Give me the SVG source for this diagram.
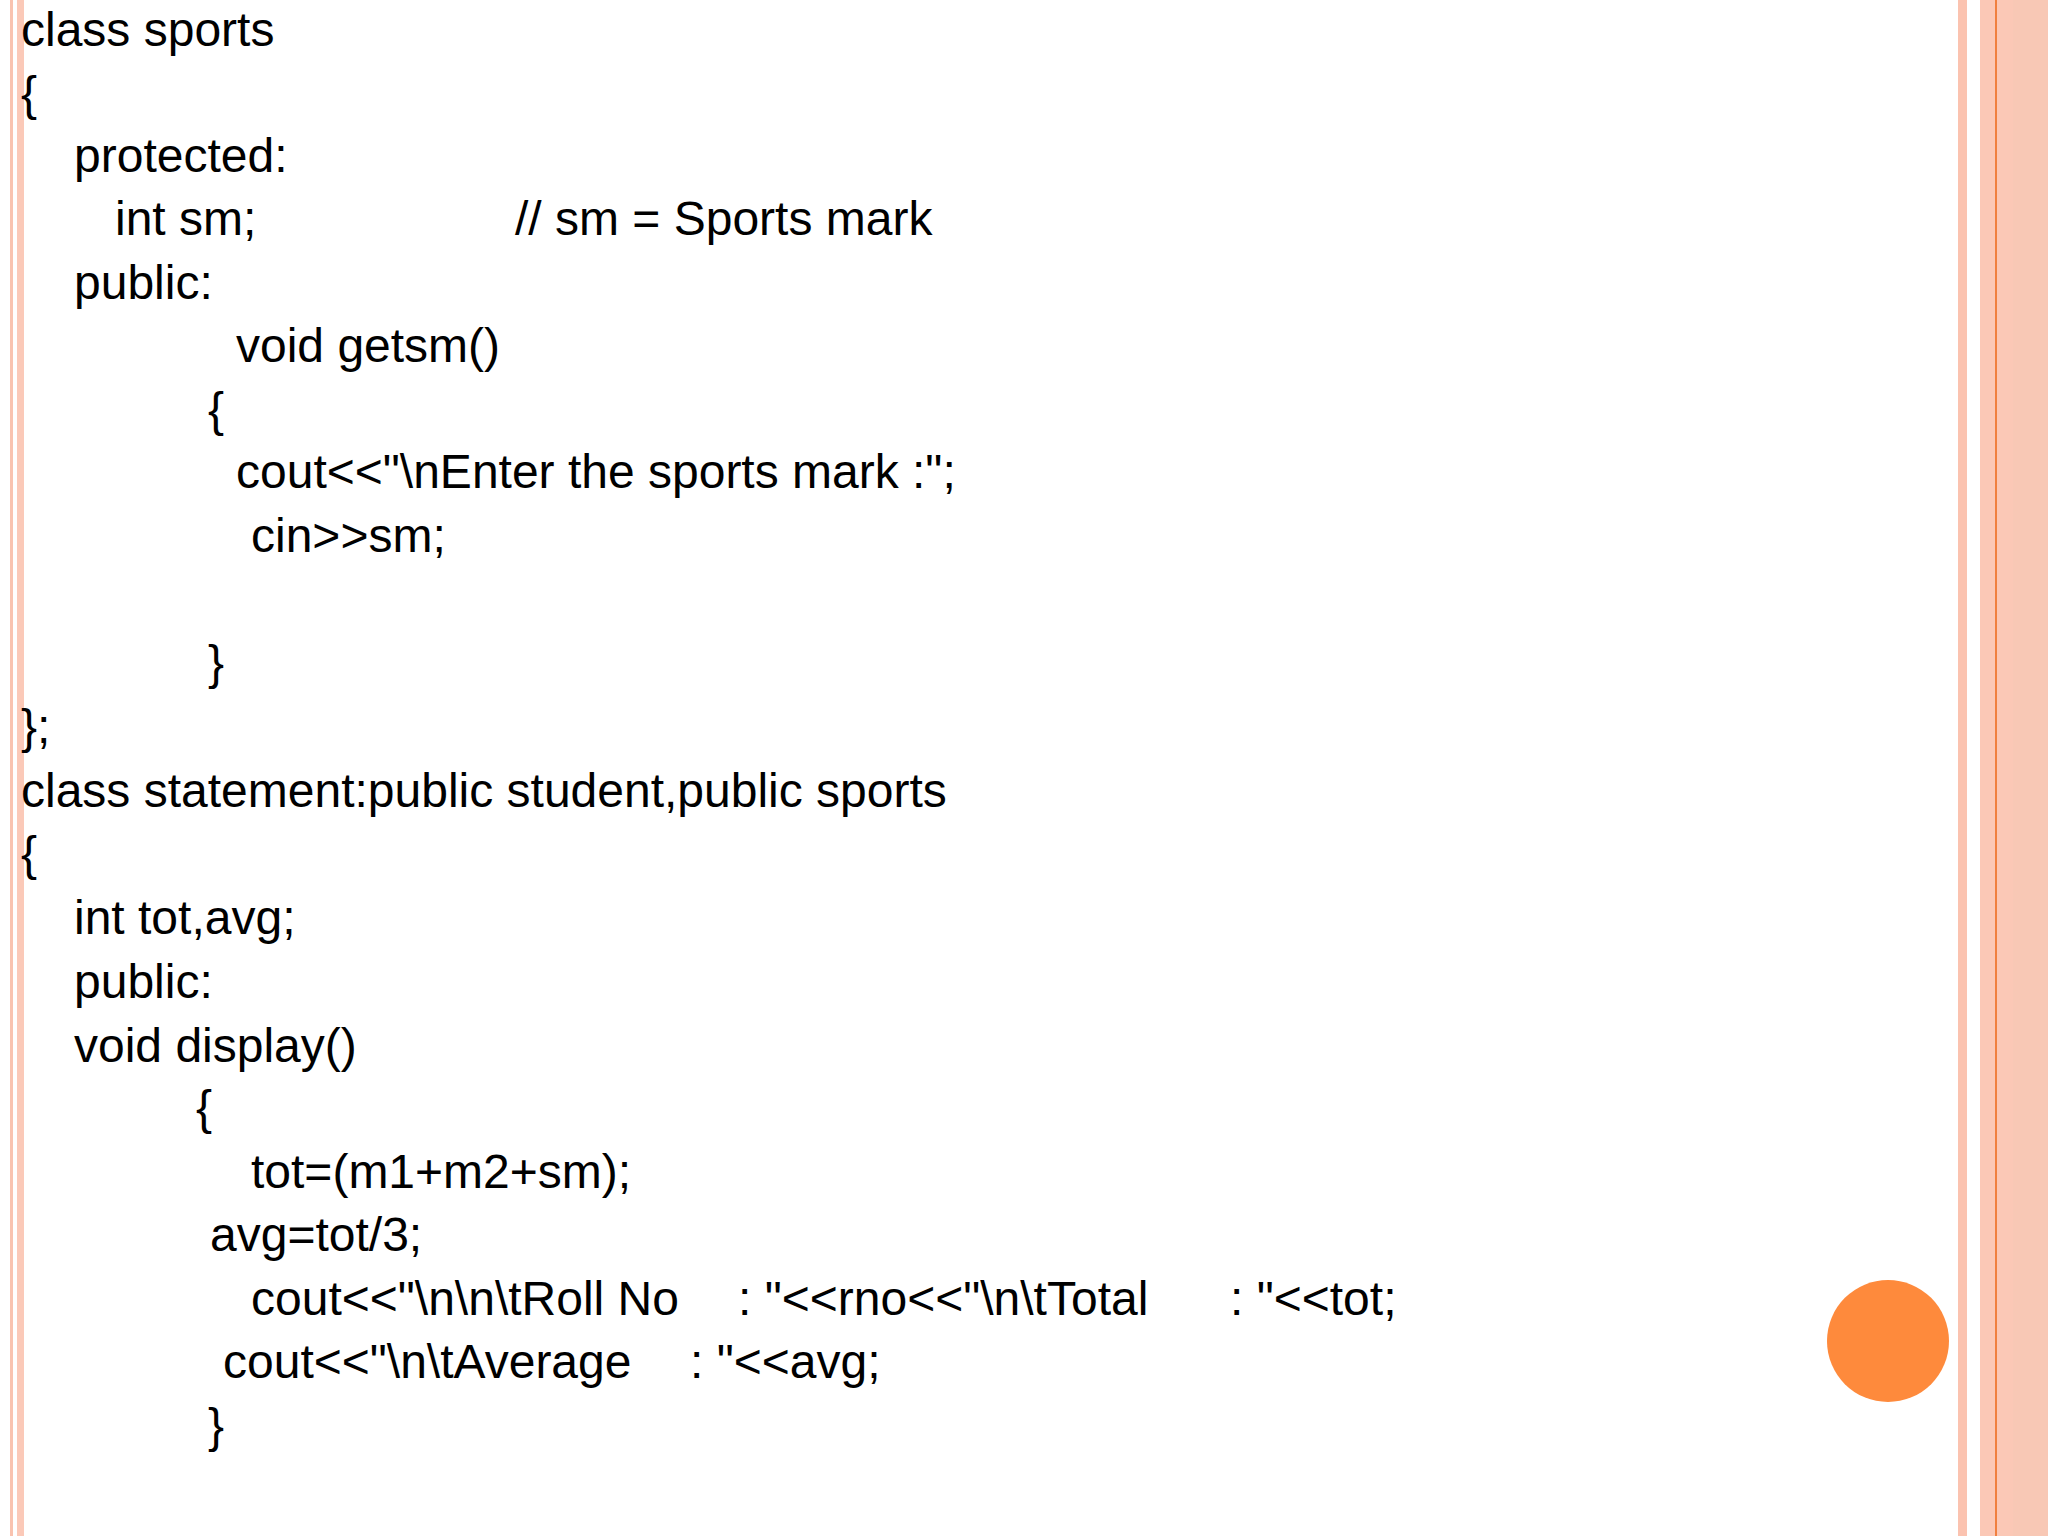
<svg xmlns="http://www.w3.org/2000/svg" width="2048" height="1536" viewBox="0 0 2048 1536">
<style>text{font-family:"Liberation Sans",Arial,sans-serif;font-size:48px;fill:#000;white-space:pre}</style>
<rect width="2048" height="1536" fill="#fff"/>
<rect x="10" y="0" width="3" height="1536" fill="#f9c3b0"/>
<rect x="17" y="0" width="7" height="1536" fill="#fbc9b8"/>
<rect x="1958" y="0" width="9" height="1536" fill="#fbc3b0"/>
<rect x="1980" y="0" width="68" height="1536" fill="#fbc8b6"/>
<rect x="2013" y="0" width="35" height="1536" fill="#f8c8b5"/>
<rect x="1995" y="0" width="2" height="1536" fill="#f0803f"/>
<circle cx="1888" cy="1341" r="61" fill="#fe8a3c"/>
<g id="code">
<text x="21" y="46">class sports</text>
<text x="21" y="110">{</text>
<text x="74" y="172">protected:</text>
<text x="115" y="235">int sm;</text>
<text x="515" y="235">// sm = Sports mark</text>
<text x="74" y="299">public:</text>
<text x="236" y="362">void getsm()</text>
<text x="208" y="426">{</text>
<text x="236" y="488">cout&lt;&lt;"\nEnter the sports mark :";</text>
<text x="251" y="552">cin&gt;&gt;sm;</text>
<text x="208" y="679">}</text>
<text x="21" y="743">};</text>
<text x="21" y="807">class statement:public student,public sports</text>
<text x="21" y="870">{</text>
<text x="74" y="934">int tot,avg;</text>
<text x="74" y="998">public:</text>
<text x="74" y="1062">void display()</text>
<text x="196" y="1124">{</text>
<text x="251" y="1188">tot=(m1+m2+sm);</text>
<text x="210" y="1251">avg=tot/3;</text>
<text x="251" y="1315">cout&lt;&lt;"\n\n\tRoll No</text>
<text x="738" y="1315">: "&lt;&lt;rno&lt;&lt;"\n\tTotal</text>
<text x="1230" y="1315">: "&lt;&lt;tot;</text>
<text x="223" y="1378">cout&lt;&lt;"\n\tAverage</text>
<text x="690" y="1378">: "&lt;&lt;avg;</text>
<text x="208" y="1442">}</text>
</g>
</svg>
